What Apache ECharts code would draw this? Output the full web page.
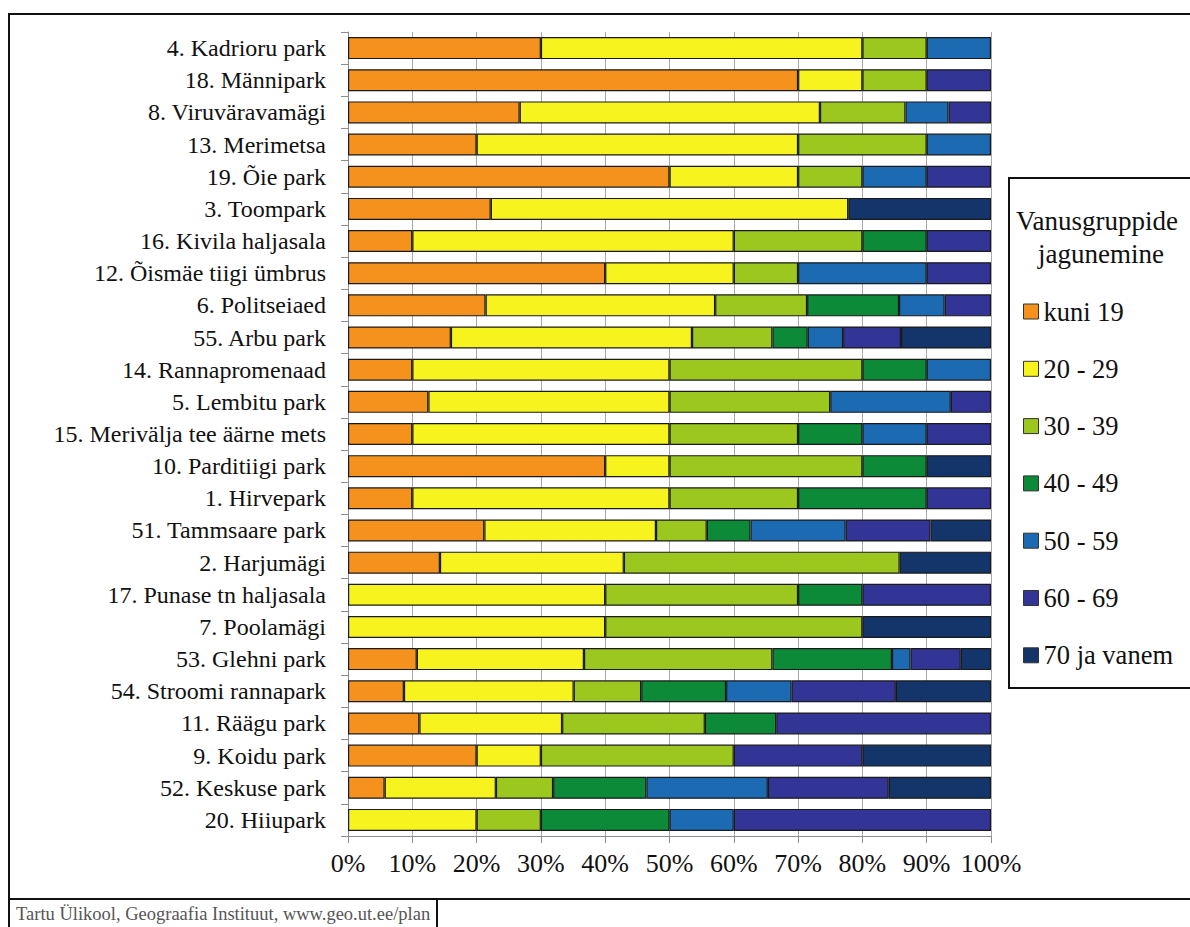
<!DOCTYPE html>
<html>
<head>
<meta charset="utf-8">
<script src="https://cdn.jsdelivr.net/npm/echarts@6/dist/echarts.min.js"></script>
<style>
  html, body { margin: 0; padding: 0; background: #ffffff; }
  #chart { width: 1190px; height: 927px; font-family: 'Liberation Serif', serif; }
</style>
</head>
<body>
<div id="chart"></div>
<script>
// Parks, top to bottom
const categories = [
  '4. Kadrioru park', '18. Männipark', '8. Viruväravamägi', '13. Merimetsa',
  '19. Õie park', '3. Toompark', '16. Kivila haljasala', '12. Õismäe tiigi ümbrus',
  '6. Politseiaed', '55. Arbu park', '14. Rannapromenaad', '5. Lembitu park',
  '15. Merivälja tee äärne mets', '10. Parditiigi park', '1. Hirvepark',
  '51. Tammsaare park', '2. Harjumägi', '17. Punase tn haljasala', '7. Poolamägi',
  '53. Glehni park', '54. Stroomi rannapark', '11. Räägu park', '9. Koidu park',
  '52. Keskuse park', '20. Hiiupark'
];

// Age group shares (%) per park, same order as categories
const age_upTo19 = [30, 70, 26.7, 20, 50, 22.2, 10, 40, 21.4, 16, 10, 12.5, 10, 40, 10, 21.2, 14.3, 0, 0, 10.7, 8.7, 11.1, 20, 5.7, 0];
const age_20_29  = [50, 10, 46.7, 50, 20, 55.6, 50, 20, 35.7, 37.5, 40, 37.5, 40, 10, 40, 26.7, 28.6, 40, 40, 26, 26.4, 22.2, 10, 17.3, 20];
const age_30_39  = [10, 10, 13.3, 20, 10, 0, 20, 10, 14.3, 12.5, 30, 25, 20, 30, 20, 7.9, 42.9, 30, 40, 29.3, 10.5, 22.2, 30, 8.9, 10];
const age_40_49  = [0, 0, 0, 0, 0, 0, 10, 0, 14.3, 5.5, 10, 0, 10, 10, 20, 6.8, 0, 10, 0, 18.6, 13.2, 11.1, 0, 14.5, 20];
const age_50_59  = [10, 0, 6.7, 10, 10, 0, 0, 20, 7.1, 5.5, 10, 18.75, 10, 0, 0, 14.8, 0, 0, 0, 2.9, 10.2, 0, 0, 18.9, 10];
const age_60_69  = [0, 10, 6.6, 0, 10, 0, 10, 10, 7.2, 9, 0, 6.25, 10, 0, 10, 13.2, 0, 20, 0, 7.8, 16.2, 33.4, 20, 18.8, 40];
const age_70plus = [0, 0, 0, 0, 0, 22.2, 0, 0, 0, 14, 0, 0, 0, 10, 0, 9.4, 14.2, 0, 20, 4.7, 14.8, 0, 20, 15.9, 0];

const seriesNames = ['kuni 19', '20 - 29', '30 - 39', '40 - 49', '50 - 59', '60 - 69', '70 ja vanem'];
const seriesValues = [age_upTo19, age_20_29, age_30_39, age_40_49, age_50_59, age_60_69, age_70plus];
const seriesColors = ['#F5921E', '#F7F31E', '#9BC71E', '#0C8A38', '#1C6AB2', '#333596', '#13356A'];

const xTicks = [0, 10, 20, 30, 40, 50, 60, 70, 80, 90, 100];

const FONT = 'Liberation Serif';

const chart = echarts.init(document.getElementById('chart'), null, { renderer: 'svg' });

const series = seriesNames.map((name, i) => ({
  name: name,
  type: 'bar',
  stack: 'total',
  barWidth: 22,
  // empty groups are left out so no zero-width outline is drawn
  data: seriesValues[i].map(v => (v === 0 ? null : v)),
  itemStyle: { color: seriesColors[i], borderColor: '#1a1a1a', borderWidth: 1.2 },
  emphasis: { disabled: true },
  animation: false
}));

chart.setOption({
  animation: false,
  backgroundColor: '#ffffff',
  textStyle: { fontFamily: FONT },
  grid: { left: 348, right: 199, top: 32, bottom: 91, containLabel: false },
  xAxis: {
    type: 'value',
    min: 0,
    max: 100,
    interval: 10,
    axisLine: { show: true, lineStyle: { color: '#8c8c8c', width: 1 } },
    axisTick: { show: true, length: 7, lineStyle: { color: '#8c8c8c' } },
    splitLine: { show: true, lineStyle: { color: '#a8a8a8', width: 1 } },
    axisLabel: {
      margin: 14,
      fontFamily: FONT,
      fontSize: 26,
      color: '#111',
      formatter: v => (xTicks.indexOf(v) >= 0 ? v + '%' : '')
    }
  },
  yAxis: {
    type: 'category',
    data: categories,
    inverse: true,
    axisLine: { show: true, lineStyle: { color: '#8c8c8c', width: 1 } },
    axisTick: { show: true, length: 7, lineStyle: { color: '#8c8c8c' } },
    splitLine: { show: false },
    axisLabel: { margin: 22, fontFamily: FONT, fontSize: 24, color: '#111' }
  },
  legend: {
    orient: 'vertical',
    left: 1018,
    top: 293,
    itemWidth: 15,
    itemHeight: 15,
    itemGap: 30.3,
    icon: 'rect',
    selectedMode: false,
    textStyle: { fontFamily: FONT, fontSize: 26.5, color: '#111' },
    itemStyle: { borderColor: '#333', borderWidth: 1 },
    data: seriesNames
  },
  graphic: [
    // outer frame
    { type: 'rect', silent: true, shape: { x: 9, y: 14, width: 1200, height: 885 },
      style: { fill: 'none', stroke: '#111', lineWidth: 2 } },
    // legend box
    { type: 'rect', silent: true, shape: { x: 1009, y: 178, width: 200, height: 510 },
      style: { fill: 'none', stroke: '#111', lineWidth: 2 } },
    { type: 'text', silent: true, left: 1016, top: 207,
      style: { text: 'Vanusgruppide', fontFamily: FONT, fontSize: 27, fill: '#111' } },
    { type: 'text', silent: true, left: 1038, top: 240,
      style: { text: 'jagunemine', fontFamily: FONT, fontSize: 27, fill: '#111' } },
    // credit box
    { type: 'rect', silent: true, shape: { x: 9, y: 899, width: 428, height: 40 },
      style: { fill: 'none', stroke: '#111', lineWidth: 2 } },
    { type: 'text', silent: true, left: 16, top: 904,
      style: { text: 'Tartu Ülikool, Geograafia Instituut, www.geo.ut.ee/plan', fontFamily: FONT, fontSize: 18.5, fill: '#555' } }
  ],
  series: series
});
</script>
</body>
</html>
